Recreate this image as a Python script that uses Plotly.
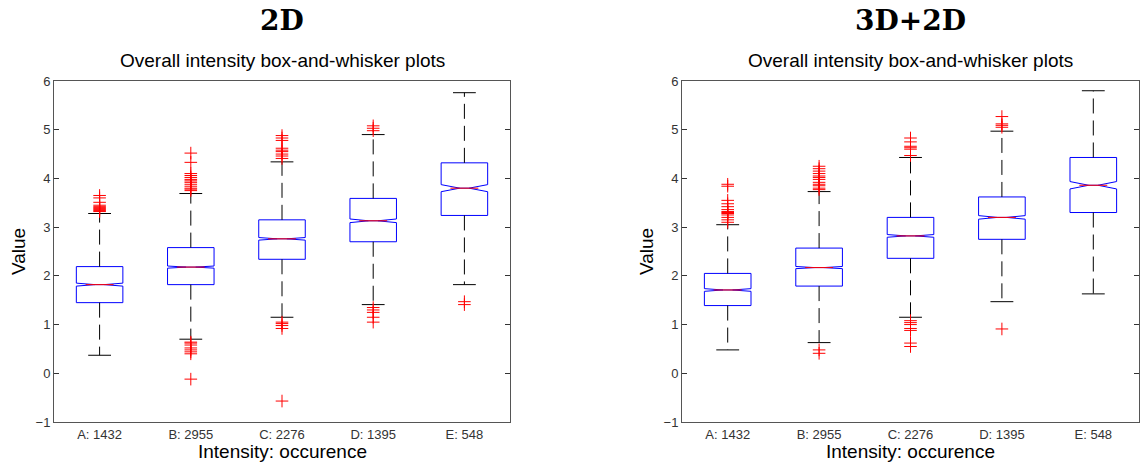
import plotly.graph_objects as go

# ---------------- data ----------------
categories = ["A: 1432", "B: 2955", "C: 2276", "D: 1395", "E: 548"]
counts = [1432, 2955, 2276, 1395, 548]

# 2D panel
q1_2d = [1.45, 1.82, 2.34, 2.70, 3.24]
med_2d = [1.82, 2.18, 2.76, 3.13, 3.80]
q3_2d = [2.19, 2.58, 3.15, 3.59, 4.32]
lo_2d = [0.37, 0.70, 1.15, 1.41, 1.82]
hi_2d = [3.28, 3.69, 4.34, 4.90, 5.76]
out_2d = [
    [3.65, 3.60, 3.51, 3.45, 3.42, 3.40, 3.38, 3.36, 3.34, 3.32],
    [4.52, 4.33, 4.10, 4.06, 4.02, 3.98, 3.95, 3.92, 3.88, 3.84, 3.80, 3.78, 3.75,
     0.64, 0.62, 0.58, 0.52, 0.48, 0.44, 0.40, -0.12],
    [4.88, 4.83, 4.78, 4.62, 4.58, 4.55, 4.50, 4.46, 4.41, 1.05, 1.02, 0.98, 0.92, -0.57],
    [5.08, 5.03, 4.98, 1.35, 1.30, 1.25, 1.15, 1.05],
    [1.47, 1.41],
]

# 3D+2D panel
q1_3d = [1.39, 1.79, 2.36, 2.75, 3.30]
med_3d = [1.71, 2.17, 2.82, 3.20, 3.86]
q3_3d = [2.05, 2.57, 3.20, 3.62, 4.43]
lo_3d = [0.48, 0.63, 1.15, 1.47, 1.63]
hi_3d = [3.05, 3.73, 4.43, 4.97, 5.80]
out_3d = [
    [3.88, 3.84, 3.55, 3.48, 3.42, 3.36, 3.32, 3.30, 3.28, 3.25, 3.20, 3.15, 3.10],
    [4.25, 4.20, 4.15, 4.10, 4.05, 4.02, 3.98, 3.92, 3.88, 3.85, 3.80, 3.77, 0.48, 0.41],
    [4.83, 4.75, 4.66, 4.63, 4.60, 4.47, 1.08, 1.04, 1.00, 0.92, 0.88, 0.62, 0.55],
    [5.27, 5.12, 5.09, 5.05, 0.91],
    [],
]

panel_titles = ["2D", "3D+2D"]
subtitle = "Overall intensity box-and-whisker plots"
x_title = "Intensity: occurence"
y_title = "Value"
y_ticks = [-1, 0, 1, 2, 3, 4, 5, 6]

# ---------------- style ----------------
W, H = 1140, 462
BOX_W = 0.51
CAP_HW = 0.125
NOTCHW = 0.4
SANS = "Liberation Sans, Arial, Helvetica, sans-serif"

fig = go.Figure()

panels = [
    (q1_2d, med_2d, q3_2d, lo_2d, hi_2d, out_2d, "x", "y"),
    (q1_3d, med_3d, q3_3d, lo_3d, hi_3d, out_3d, "x2", "y2"),
]

pos = list(range(len(categories)))

for (q1, med, q3, lo, hi, outs, xa, ya) in panels:
    # whiskers (dashed black)
    wx, wy = [], []
    for i in pos:
        wx += [i, i, None, i, i, None]
        wy += [q3[i], hi[i], None, q1[i], lo[i], None]
    fig.add_trace(go.Scatter(x=wx, y=wy, mode="lines", xaxis=xa, yaxis=ya,
                             line=dict(color="black", width=1, dash="15px,7px"),
                             hoverinfo="skip", showlegend=False))
    # whisker caps
    cx, cy = [], []
    for i in pos:
        cx += [i - CAP_HW, i + CAP_HW, None, i - CAP_HW, i + CAP_HW, None]
        cy += [hi[i], hi[i], None, lo[i], lo[i], None]
    fig.add_trace(go.Scatter(x=cx, y=cy, mode="lines", xaxis=xa, yaxis=ya,
                             line=dict(color="black", width=1),
                             hoverinfo="skip", showlegend=False))
    # notched boxes
    notch = [1.57 * (q3[i] - q1[i]) / counts[i] ** 0.5 for i in pos]
    fig.add_trace(go.Box(x=pos, q1=q1, median=med, q3=q3,
                         lowerfence=q1, upperfence=q3,
                         notched=True, notchspan=notch, notchwidth=NOTCHW,
                         width=BOX_W, whiskerwidth=0,
                         line=dict(color="blue", width=1),
                         fillcolor="rgba(255,255,255,0)",
                         boxpoints=False, xaxis=xa, yaxis=ya,
                         hoverinfo="skip", showlegend=False))
    # red medians
    mhw = BOX_W / 2 * (1 - NOTCHW)
    mx, my = [], []
    for i in pos:
        mx += [i - mhw, i + mhw, None]
        my += [med[i], med[i], None]
    fig.add_trace(go.Scatter(x=mx, y=my, mode="lines", xaxis=xa, yaxis=ya,
                             line=dict(color="red", width=1),
                             hoverinfo="skip", showlegend=False))
    # outliers
    ox, oy = [], []
    for i in pos:
        ox += [i] * len(outs[i])
        oy += outs[i]
    fig.add_trace(go.Scatter(x=ox, y=oy, mode="markers", xaxis=xa, yaxis=ya,
                             marker=dict(symbol="cross-thin", size=9,
                                         line=dict(color="red", width=1)),
                             hoverinfo="skip", showlegend=False))

x_domains = [[54 / W, 510 / W], [682 / W, 1139 / W]]
y_domain = [1 - 422 / H, 1 - 81 / H]

common_x = dict(range=[-0.5, 4.5], tickmode="array", tickvals=pos, ticktext=categories,
                ticks="", showgrid=False, zeroline=False, showline=True, mirror=True,
                linecolor="#555555", linewidth=1, automargin=False,
                tickfont=dict(family=SANS, size=13, color="#333333"), fixedrange=True)
common_y = dict(range=[-1, 6], tickmode="array", tickvals=y_ticks,
                ticks="inside", ticklen=5, tickcolor="#333333",
                showgrid=False, zeroline=False, showline=True, mirror="ticks",
                linecolor="#555555", linewidth=1, automargin=False,
                tickfont=dict(family=SANS, size=13, color="#333333"), fixedrange=True)

fig.update_layout(
    template="none",
    width=W, height=H, autosize=False,
    margin=dict(l=0, r=0, t=0, b=0, pad=0),
    paper_bgcolor="white", plot_bgcolor="white",
    showlegend=False,
    xaxis=dict(domain=x_domains[0], anchor="y", **common_x),
    yaxis=dict(domain=y_domain, anchor="x", **common_y),
    xaxis2=dict(domain=x_domains[1], anchor="y2", **common_x),
    yaxis2=dict(domain=y_domain, anchor="x2", **common_y),
)

annotations = []
for k, dom in enumerate(x_domains):
    cx = (dom[0] + dom[1]) / 2
    annotations.append(dict(text="<b>" + panel_titles[k] + "</b>", x=cx, y=1 - 21 / H,
                            xref="paper", yref="paper", xanchor="center", yanchor="middle",
                            showarrow=False,
                            font=dict(family="DejaVu Serif, serif", size=28, color="black")))
    annotations.append(dict(text=subtitle, x=cx, y=1 - 60 / H,
                            xref="paper", yref="paper", xanchor="center", yanchor="middle",
                            showarrow=False,
                            font=dict(family=SANS, size=19, color="black")))
    annotations.append(dict(text=x_title, x=cx, y=1 - 451 / H,
                            xref="paper", yref="paper", xanchor="center", yanchor="middle",
                            showarrow=False,
                            font=dict(family=SANS, size=19, color="black")))
    annotations.append(dict(text=y_title, x=dom[0] - 35 / W, y=1 - 252 / H, textangle=-90,
                            xref="paper", yref="paper", xanchor="center", yanchor="middle",
                            showarrow=False,
                            font=dict(family=SANS, size=19, color="black")))
fig.update_layout(annotations=annotations)

fig.write_html(
    "out.html",
    config={"displayModeBar": False},
    post_script="document.body.style.margin='0';document.body.style.padding='0';"
                "document.body.style.overflow='hidden';",
)
